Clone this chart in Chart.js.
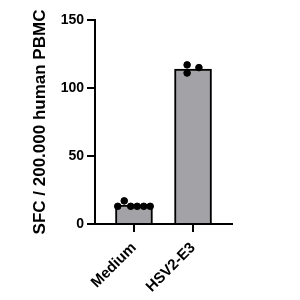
<!DOCTYPE html>
<html>
<head>
<meta charset="utf-8">
<script src="https://cdn.jsdelivr.net/npm/chart.js@4"></script>
<style>
  body { margin: 0; background: #fff; }
</style>
</head>
<body>
<canvas id="chart" width="300" height="300"></canvas>
<script>
// data
const categories = ['Medium', 'HSV2-E3'];
const barMeans = [14, 114];
const mediumPoints = [13, 17, 13, 13, 13, 13];
const hsvPoints = [117, 111, 115];
const yTicks = [0, 50, 100, 150];

// horizontal spread of the dots inside each bar (layout only)
const spread = [
    [-0.275, -0.165, -0.055, 0.055, 0.165, 0.275],
    [-0.1, -0.1, 0.1]
];

const groups = [mediumPoints, hsvPoints];
const dots = [];
groups.forEach((vals, g) => {
    vals.forEach((v, i) => {
        dots.push({ x: g + 1 + spread[g][i], y: v });
    });
});

const fontFam = "Arial, 'Liberation Sans', sans-serif";

new Chart(document.getElementById('chart'), {
    type: 'bar',
    data: {
        datasets: [
            {
                type: 'scatter',
                data: dots,
                backgroundColor: '#000',
                borderColor: '#000',
                pointRadius: 3.3,
                order: 0
            },
            {
                type: 'bar',
                data: barMeans.map((v, i) => ({ x: i + 1, y: v })),
                backgroundColor: '#a3a3a7',
                borderColor: '#000',
                borderWidth: 2,
                barThickness: 37,
                order: 1
            }
        ]
    },
    options: {
        responsive: false,
        animation: false,
        layout: { padding: { left: 26, top: 20, right: 68, bottom: 0 } },
        plugins: { legend: { display: false }, tooltip: { enabled: false } },
        scales: {
            x: {
                type: 'linear',
                offset: false,
                bounds: 'data',
                min: 0.34,
                max: 2.66,
                afterBuildTicks: s => { s.ticks = categories.map((c, i) => ({ value: i + 1 })); },
                afterFit: s => { s.height = 76; },
                ticks: {
                    callback: v => categories[v - 1],
                    minRotation: 45,
                    maxRotation: 45,
                    padding: 7,
                    color: '#000',
                    font: { family: fontFam, size: 15, weight: 'bold' }
                },
                grid: { offset: false, drawOnChartArea: false, color: '#000', lineWidth: 2, tickLength: 8 },
                border: { color: '#000', width: 2 }
            },
            y: {
                min: 0,
                max: 150,
                afterBuildTicks: s => { s.ticks = yTicks.map(v => ({ value: v })); },
                afterFit: s => { s.width = 69; },
                title: {
                    display: true,
                    text: 'SFC / 200.000 human PBMC',
                    color: '#000',
                    font: { family: fontFam, size: 17, weight: 'bold' }
                },
                ticks: {
                    color: '#000',
                    padding: 3,
                    font: { family: fontFam, size: 14, weight: 'bold' }
                },
                grid: { drawOnChartArea: false, color: '#000', lineWidth: 2, tickLength: 8 },
                border: { color: '#000', width: 2 }
            }
        }
    }
});
</script>
</body>
</html>
